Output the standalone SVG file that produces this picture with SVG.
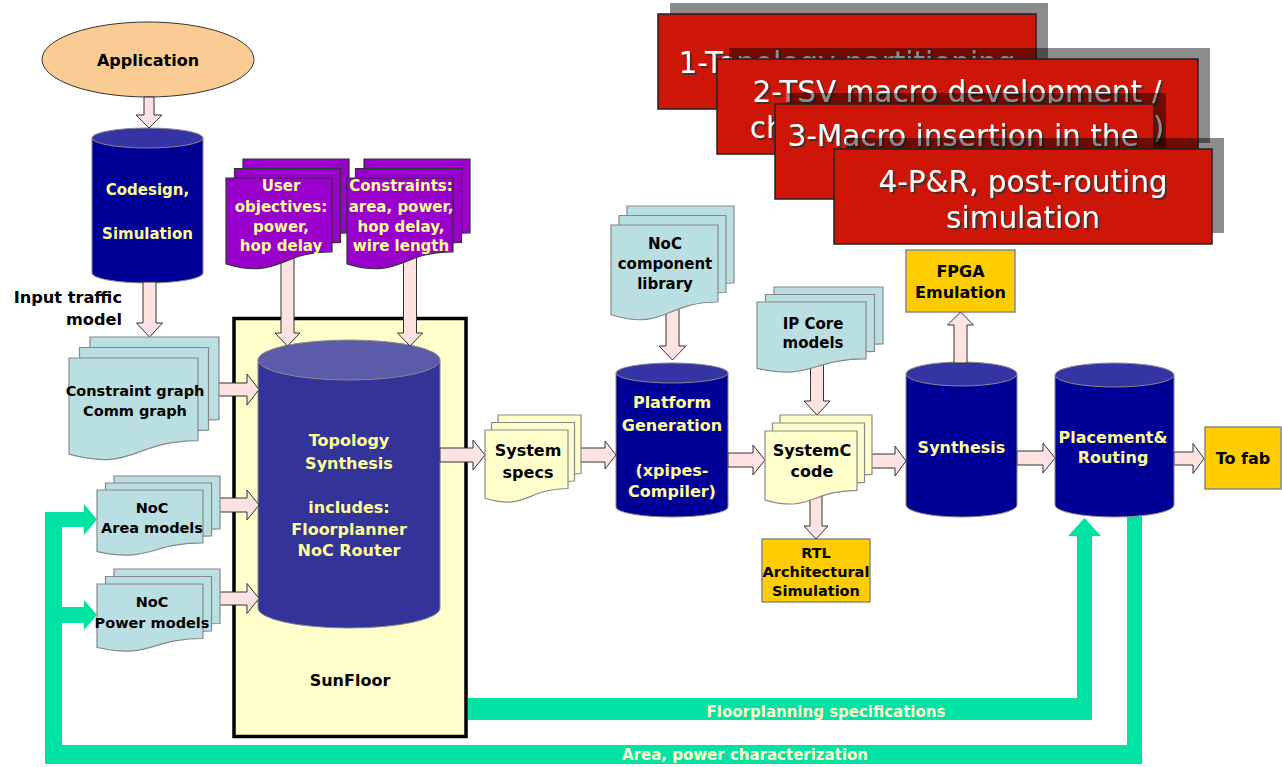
<svg xmlns="http://www.w3.org/2000/svg" xmlns:xlink="http://www.w3.org/1999/xlink" width="1282" height="767" viewBox="0 0 1282 767">
<style>
  .t{font-family:"DejaVu Sans","Liberation Sans",sans-serif;font-weight:bold;text-anchor:middle}
  .blk{fill:#000}
  .yel{fill:#FFFF99}
  .lyel{fill:#FFFFCC}
  .blue{fill:#BADFE2;stroke:#888;stroke-width:1.2}
  .ydoc{fill:#FFFFCC;stroke:#888;stroke-width:1.2}
  .purp{fill:#9900CC;stroke:#333;stroke-width:1.2}
  .cylb{fill:#000096;stroke:#888;stroke-width:1}
  .cylt{fill:#3434A4;stroke:#888;stroke-width:1}
  .orng{fill:#FFCC00;stroke:#888;stroke-width:1.5}
  .arr{fill:#FFE2E2;stroke:#333;stroke-width:1}
  .grn{fill:#00E3A4}
  .red{fill:#CD1508;stroke:#222;stroke-width:1.5}
  .shd{fill:#000;opacity:0.45}
  .rt{font-family:"DejaVu Sans","Liberation Sans",sans-serif;font-size:29.5px;fill:#fff;text-anchor:middle;filter:url(#ts)}
</style>
<defs>
  <filter id="ts" x="-5%" y="-20%" width="110%" height="150%">
    <feDropShadow dx="2" dy="2" stdDeviation="0.4" flood-color="#333" flood-opacity="0.85"/>
  </filter>
  <path id="dCG" d="M0,0 H129 V82.6 C64.5,82.6 64.5,114 0,96.2 Z"/>
  <path id="dAR" d="M0,0 H106 V52.9 C53,52.9 53,73.1 0,61.6 Z"/>
  <path id="dPW" d="M0,0 H106 V54.5 C53,54.5 53,75.3 0,63.5 Z"/>
  <path id="dPU" d="M0,0 H106 V73.8 C53,73.8 53,101.8 0,85.9 Z"/>
  <path id="dLB" d="M0,0 H107 V77 C53.5,77 53.5,106.3 0,89.7 Z"/>
  <path id="dSS" d="M0,0 H83 V58.5 C41.5,58.5 41.5,80.8 0,68.2 Z"/>
  <path id="dIP" d="M0,0 H109 V56.9 C54.5,56.9 54.5,78.6 0,66.3 Z"/>
  <path id="dSC" d="M0,0 H92 V59.3 C46,59.3 46,81.9 0,69.1 Z"/>
</defs>
<rect width="1282" height="767" fill="#fff"/>

<g id="sunfloor">
  <rect x="234" y="318.5" width="232" height="418" fill="#FFFFCC" stroke="#000" stroke-width="3.5"/>
  <text class="t blk" x="350" y="686" font-size="16">SunFloor</text>
</g>

<g id="application">
  <ellipse cx="148" cy="59.5" rx="106" ry="37.5" fill="#FBCB94" stroke="#333" stroke-width="1"/>
  <text class="t blk" x="148" y="66" font-size="16">Application</text>
</g>

<g id="codesign">
  <path class="cylb" d="M92,138 V273 A55.5,10 0 0 0 203,273 V138 Z"/>
  <ellipse class="cylt" cx="147.5" cy="138" rx="55.5" ry="10"/>
  <text class="t yel" x="147.5" y="195" font-size="15">Codesign,</text>
  <text class="t yel" x="147.5" y="239" font-size="15">Simulation</text>
</g>

<g id="input-traffic-label">
  <text class="t blk" x="122" y="303" font-size="16.2" style="text-anchor:end">Input traffic</text>
  <text class="t blk" x="122" y="325" font-size="16.2" style="text-anchor:end">model</text>
</g>

<g id="topology">
  <path d="M258,360 V608 A91,20 0 0 0 440,608 V360 Z" fill="#333399" stroke="#888" stroke-width="1"/>
  <ellipse cx="349" cy="360" rx="91" ry="20" fill="#5B5BAA" stroke="#888" stroke-width="1"/>
  <text class="t yel" x="349" y="446" font-size="16">Topology</text>
  <text class="t yel" x="349" y="469" font-size="16">Synthesis</text>
  <text class="t yel" x="349" y="513" font-size="16">includes:</text>
  <text class="t yel" x="349" y="535" font-size="16">Floorplanner</text>
  <text class="t yel" x="349" y="556" font-size="16">NoC Router</text>
</g>

<g id="platform">
  <path class="cylb" d="M616,373 V507 A56,10 0 0 0 728,507 V373 Z"/>
  <ellipse class="cylt" cx="672" cy="373" rx="56" ry="10"/>
  <text class="t yel" x="672" y="408" font-size="16">Platform</text>
  <text class="t yel" x="672" y="431" font-size="16">Generation</text>
  <text class="t yel" x="672" y="476" font-size="16">(xpipes-</text>
  <text class="t yel" x="672" y="497" font-size="16">Compiler)</text>
</g>

<g id="synthesis">
  <path class="cylb" d="M906,374 V505 A55.5,12 0 0 0 1017,505 V374 Z"/>
  <ellipse class="cylt" cx="961.5" cy="374" rx="55.5" ry="12"/>
  <text class="t yel" x="961.5" y="453" font-size="16">Synthesis</text>
</g>

<g id="rtl">
  <rect class="orng" x="762" y="539" width="108" height="63"/>
  <text class="t blk" x="816" y="558" font-size="14.5">RTL</text>
  <text class="t blk" x="816" y="577" font-size="14.5">Architectural</text>
  <text class="t blk" x="816" y="596" font-size="14.5">Simulation</text>
</g>

<g id="fpga">
  <rect class="orng" x="906" y="250" width="109" height="62"/>
  <text class="t blk" x="960.5" y="277" font-size="16">FPGA</text>
  <text class="t blk" x="960.5" y="298" font-size="16">Emulation</text>
</g>

<g id="tofab">
  <rect class="orng" x="1205" y="427" width="76" height="62"/>
  <text class="t blk" x="1243" y="464" font-size="16">To fab</text>
</g>

<g id="connectors">
  <path class="grn" d="M1127,516 H1142 V764 H45 V512 H84 V504 L97,519.5 L84,535 V527 H62 V607 H84 V600 L97,615 L84,630 V623 H62 V745 H1127 Z"/>
  <path class="grn" d="M468,698 H1077 V536 H1068 L1084.5,518 L1101,536 H1092 V720 H468 Z"/>
  <text class="t lyel" x="826" y="717" font-size="15">Floorplanning specifications</text>
  <text class="t lyel" x="745" y="760" font-size="15">Area, power characterization</text>

  <path class="arr" d="M144,97 H154 V115 H162 L149,128 L136,115 H144 Z"/>
  <path class="arr" d="M143,282 H156 V323 H162.5 L149.5,337 L136.5,323 H143 Z"/>
  <path class="arr" d="M215,383 H247 V374 L259,389.5 L247,405 V396 H215 Z"/>
  <path class="arr" d="M215,498 H247 V490 L259,505 L247,520 V512 H215 Z"/>
  <path class="arr" d="M215,592 H247 V583.5 L259,598.5 L247,613.5 V605 H215 Z"/>
  <path class="arr" d="M281,255 H294 V333 H300 L287.5,346 L275,333 H281 Z"/>
  <path class="arr" d="M403.5,255 H416.5 V333 H422.5 L410,346 L397.5,333 H403.5 Z"/>
  <path class="arr" d="M440,448 H473 V440 L485,455 L473,470 V462 H440 Z"/>
  <path class="arr" d="M575,448 H605 V441 L616,455 L605,469 V462 H575 Z"/>
  <path class="arr" d="M666,300 H679 V346 H686 L672.5,360 L659,346 H666 Z"/>
  <path class="arr" d="M728,453 H753 V445 L765,460 L753,475 V467 H728 Z"/>
  <path class="arr" d="M810.5,350 H823.5 V401 H830 L817,415 L804,401 H810.5 Z"/>
  <path class="arr" d="M810,490 H822 V526 H828 L816,539 L804,526 H810 Z"/>
  <path class="arr" d="M865,454 H895 V446 L906,461 L895,476 V468 H865 Z"/>
  <path class="arr" d="M954,363 V325 H947.5 L960.5,312 L973.5,325 H967 V363 Z"/>
  <path class="arr" d="M1017,451 H1043 V443 L1055,458 L1043,473 V465 H1017 Z"/>
  <path class="arr" d="M1174,452 H1193 V443.5 L1204,458.5 L1193,473.5 V465 H1174 Z"/>
</g>

<g id="placement">
  <path class="cylb" d="M1055,375 V505 A59.5,12 0 0 0 1174,505 V375 Z"/>
  <ellipse class="cylt" cx="1114.5" cy="375" rx="59.5" ry="12"/>
  <text class="t yel" x="1113" y="443" font-size="16">Placement&amp;</text>
  <text class="t yel" x="1113" y="463" font-size="16">Routing</text>
</g>

<g id="constraint-graph">
  <use xlink:href="#dCG" class="blue" x="90" y="337"/>
  <use xlink:href="#dCG" class="blue" x="79.5" y="347.5"/>
  <use xlink:href="#dCG" class="blue" x="69" y="358"/>
  <text class="t blk" x="135" y="396" font-size="14.5">Constraint graph</text>
  <text class="t blk" x="135" y="416" font-size="14.5">Comm graph</text>
</g>

<g id="noc-area">
  <use xlink:href="#dAR" class="blue" x="114" y="476"/>
  <use xlink:href="#dAR" class="blue" x="105.5" y="483"/>
  <use xlink:href="#dAR" class="blue" x="97" y="490"/>
  <text class="t blk" x="152" y="513" font-size="14.5">NoC</text>
  <text class="t blk" x="152" y="533" font-size="14.5">Area models</text>
</g>

<g id="noc-power">
  <use xlink:href="#dPW" class="blue" x="114" y="569"/>
  <use xlink:href="#dPW" class="blue" x="105.5" y="576.5"/>
  <use xlink:href="#dPW" class="blue" x="97" y="584"/>
  <text class="t blk" x="152" y="607" font-size="14.5">NoC</text>
  <text class="t blk" x="152" y="628" font-size="14.5">Power models</text>
</g>

<g id="user-objectives">
  <use xlink:href="#dPU" class="purp" x="243" y="159"/>
  <use xlink:href="#dPU" class="purp" x="234.5" y="168.5"/>
  <use xlink:href="#dPU" class="purp" x="226" y="178"/>
  <text class="t yel" x="281" y="191" font-size="15">User</text>
  <text class="t yel" x="281" y="212" font-size="15">objectives:</text>
  <text class="t yel" x="281" y="232" font-size="15">power,</text>
  <text class="t yel" x="281" y="251" font-size="15">hop delay</text>
</g>

<g id="constraints">
  <use xlink:href="#dPU" class="purp" x="364" y="159"/>
  <use xlink:href="#dPU" class="purp" x="355.5" y="168.5"/>
  <use xlink:href="#dPU" class="purp" x="347" y="178"/>
  <text class="t yel" x="401" y="191" font-size="15">Constraints:</text>
  <text class="t yel" x="401" y="212" font-size="15">area, power,</text>
  <text class="t yel" x="401" y="232" font-size="15">hop delay,</text>
  <text class="t yel" x="401" y="251" font-size="15">wire length</text>
</g>

<g id="noc-library">
  <use xlink:href="#dLB" class="blue" x="627" y="206"/>
  <use xlink:href="#dLB" class="blue" x="619" y="215.5"/>
  <use xlink:href="#dLB" class="blue" x="611" y="225"/>
  <text class="t blk" x="665" y="249" font-size="15">NoC</text>
  <text class="t blk" x="665" y="269" font-size="15">component</text>
  <text class="t blk" x="665" y="289" font-size="15">library</text>
</g>

<g id="system-specs">
  <use xlink:href="#dSS" class="ydoc" x="498" y="415"/>
  <use xlink:href="#dSS" class="ydoc" x="491.5" y="422.5"/>
  <use xlink:href="#dSS" class="ydoc" x="485" y="430"/>
  <text class="t blk" x="528" y="456" font-size="16">System</text>
  <text class="t blk" x="528" y="478" font-size="16">specs</text>
</g>

<g id="ip-core">
  <use xlink:href="#dIP" class="blue" x="774" y="287"/>
  <use xlink:href="#dIP" class="blue" x="765.5" y="294.5"/>
  <use xlink:href="#dIP" class="blue" x="757" y="302"/>
  <text class="t blk" x="813" y="329" font-size="15">IP Core</text>
  <text class="t blk" x="813" y="348" font-size="15">models</text>
</g>

<g id="systemc">
  <use xlink:href="#dSC" class="ydoc" x="780" y="415"/>
  <use xlink:href="#dSC" class="ydoc" x="772.5" y="423"/>
  <use xlink:href="#dSC" class="ydoc" x="765" y="431"/>
  <text class="t blk" x="812" y="456" font-size="16">SystemC</text>
  <text class="t blk" x="812" y="477" font-size="16">code</text>
</g>

<g id="step1">
  <rect class="shd" x="670" y="3" width="378" height="95"/>
  <rect class="red" x="658" y="14" width="378" height="95"/>
  <text class="rt" x="847" y="73">1-Topology partitioning</text>
</g>
<g id="step2">
  <rect class="shd" x="729" y="48" width="481" height="95"/>
  <rect class="red" x="717" y="59" width="481" height="95"/>
  <text class="rt" x="957" y="102">2-TSV macro development /</text>
  <text class="rt" x="957" y="138">characterization (3D model)</text>
</g>
<g id="step3">
  <rect class="shd" x="787" y="93" width="379" height="95"/>
  <rect class="red" x="775" y="104" width="379" height="95"/>
  <text class="rt" x="963" y="146">3-Macro insertion in the</text>
</g>
<g id="step4">
  <rect class="shd" x="846" y="138" width="378" height="95"/>
  <rect class="red" x="834" y="149" width="378" height="95"/>
  <text class="rt" x="1023" y="192">4-P&amp;R, post-routing</text>
  <text class="rt" x="1023" y="228">simulation</text>
</g>
</svg>
